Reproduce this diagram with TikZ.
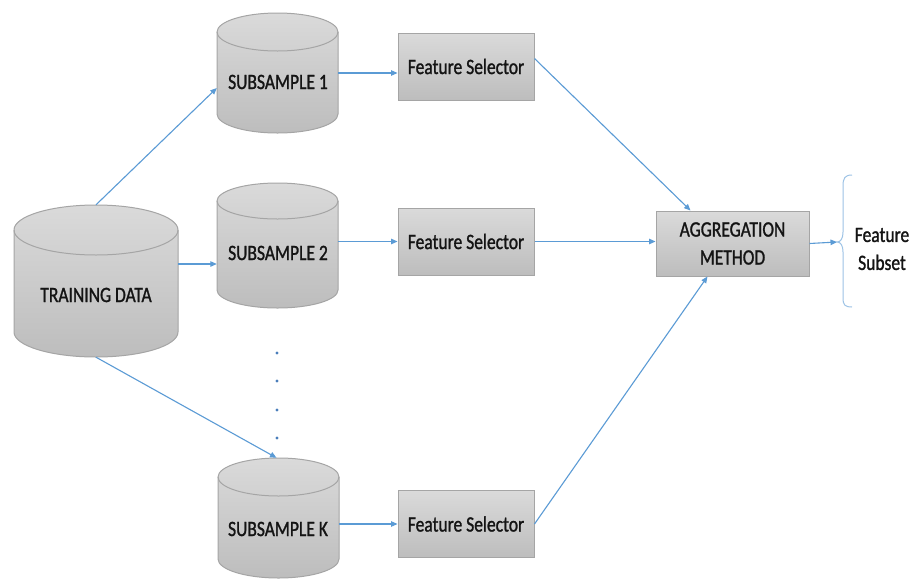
\documentclass[tikz,border=0pt]{standalone}
\usepackage{fontspec}
\setmainfont{Carlito}[FakeStretch=0.8, FakeBold=1.2]
\usetikzlibrary{arrows.meta,calc}
\definecolor{arr}{HTML}{5B9BD5}
\definecolor{brc}{HTML}{9DC3E6}
\definecolor{boxl}{HTML}{DADADA}
\definecolor{boxd}{HTML}{BDBDBD}
\definecolor{edgec}{HTML}{A5A5A5}
\definecolor{txt}{HTML}{141414}
\definecolor{dotc}{HTML}{4A7EBB}
% cylinder: cx, top, bottom, half width, ry
\newcommand\mycyl[5]{%
  \path[draw=edgec, line width=1pt, top color=boxl, bottom color=boxd]
    ({#1-#4},{#2+#5}) -- ({#1-#4},{#3-#5})
    arc[start angle=180,end angle=0,x radius=#4,y radius=#5]
    -- ({#1+#4},{#2+#5})
    arc[start angle=0,end angle=-180,x radius=#4,y radius=#5] -- cycle;
  \draw[edgec, line width=1pt] ({#1-#4},{#2+#5})
    arc[start angle=180,end angle=0,x radius=#4,y radius=#5];
}
\begin{document}
\begin{tikzpicture}[x=1pt,y=-1pt,
  lbl/.style={font=\fontsize{21.9}{28}\selectfont, text=txt, inner sep=0, align=center},
  fsbox/.style={draw=edgec, line width=1pt, top color=boxl, bottom color=boxd,
    minimum width=136pt, minimum height=67pt, inner sep=0,
    font=\fontsize{21.9}{28}\selectfont, text=txt},
  cylbox/.style={draw=none, inner sep=0},
  conn/.style={draw=arr, line width=1.1pt, -{Triangle[length=6.5pt,width=5.5pt]}}]
\useasboundingbox (0,0) rectangle (919,579);
\fill[white] (0,0) rectangle (919,579);

% cylinders
\mycyl{96}{205}{357}{82}{25}
\mycyl{277.5}{13}{133}{60.5}{19}
\mycyl{277.5}{183}{308}{60.5}{18}
\mycyl{278.5}{458}{578}{60.5}{19}

\node[cylbox, minimum width=164pt, minimum height=152pt] (td) at (96,281) {};
\node[cylbox, minimum width=121pt, minimum height=120pt] (s1) at (277.5,73) {};
\node[cylbox, minimum width=121pt, minimum height=125pt] (s2) at (277.5,245.5) {};
\node[cylbox, minimum width=121pt, minimum height=120pt] (sk) at (278.5,518) {};

\node[lbl] (tdl) at (96,295) {TRAINING DATA};
\node[lbl] (s1l) at (278,82) {SUBSAMPLE 1};
\node[lbl] (s2l) at (278,253) {SUBSAMPLE 2};
\node[lbl] (skl) at (278,529) {SUBSAMPLE K};

% feature selectors
\node[fsbox] (fs1) at (466,66.5) {Feature Selector};
\node[fsbox] (fs2) at (466,241.5) {Feature Selector};
\node[fsbox] (fsk) at (466,524) {Feature Selector};

% aggregation
\node[fsbox, minimum width=153pt, minimum height=65pt, align=center] (agg) at (732.5,243.5) {AGGREGATION\\METHOD};

% brace and output
\draw[brc, line width=1pt] (852,175) .. controls (845,175) and (843,178) .. (843,186)
  -- (843,232) .. controls (843,238) and (841,242) .. (837,242)
  .. controls (841,242) and (843,246) .. (843,252)
  -- (843,298) .. controls (843,305) and (845,307) .. (852,307);
\coordinate (bt) at (837,242);
\node[lbl] (fsub) at (882,249) {Feature\\Subset};

% dots
\foreach \yy in {353,381,410,438} \fill[dotc] (277,\yy) circle (1.6pt);

% connectors
\draw[conn] (td.north) -- ([yshift=-15pt]s1.west);
\draw[conn] ([yshift=17pt]td.east) -- ([yshift=-18.5pt]s2.west);
\draw[conn] (td.south) -- ([xshift=-2pt]sk.north);
\draw[conn] (s1.east) -- (s1.east -| fs1.west);
\draw[conn] (fs2.west -| s2.east) -- (fs2.west);
\draw[conn] (fsk.west -| sk.east) -- (fsk.west);
\draw[conn] ([yshift=8pt]fs1.east) -- ([xshift=-42pt]agg.north);
\draw[conn] (fs2.east) -- (fs2.east -| agg.west);
\draw[conn] (fsk.east) -- ([xshift=-25pt]agg.south);
\draw[conn] (agg.east) -- (bt);
\end{tikzpicture}
\end{document}
